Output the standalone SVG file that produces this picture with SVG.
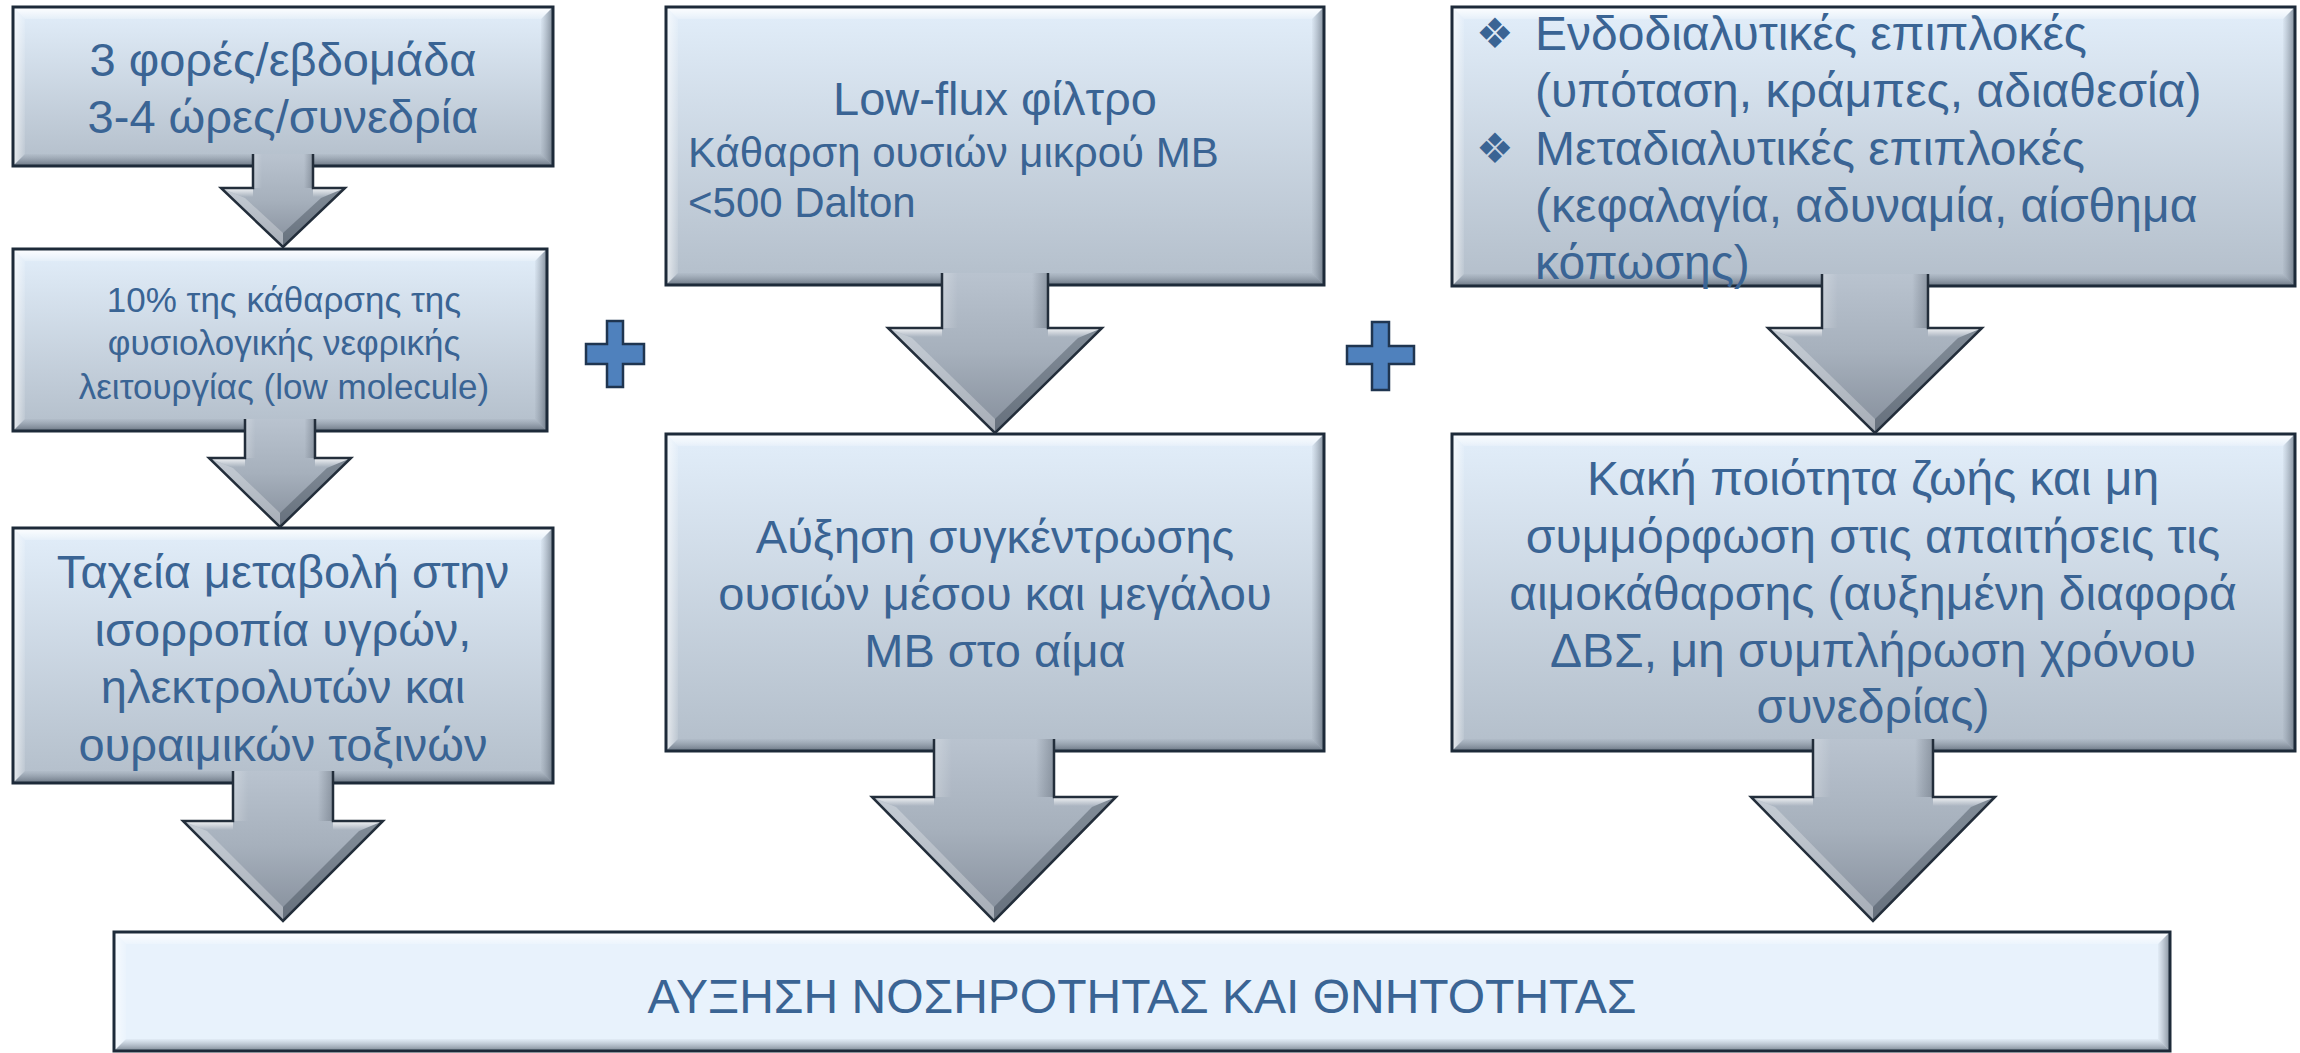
<svg xmlns="http://www.w3.org/2000/svg" width="2300" height="1053" viewBox="0 0 2300 1053">
  <defs>
    <linearGradient id="boxGrad" x1="0" y1="0" x2="0" y2="1">
      <stop offset="0" stop-color="#E2EEFA"/>
      <stop offset="1" stop-color="#B3BECA"/>
    </linearGradient>
    <linearGradient id="bevT" x1="0" y1="0" x2="0" y2="1">
      <stop offset="0" stop-color="#FFFFFF" stop-opacity="0.95"/>
      <stop offset="1" stop-color="#FFFFFF" stop-opacity="0.2"/>
    </linearGradient>
    <linearGradient id="bevL" x1="0" y1="0" x2="1" y2="0">
      <stop offset="0" stop-color="#FFFFFF" stop-opacity="0.7"/>
      <stop offset="1" stop-color="#FFFFFF" stop-opacity="0.1"/>
    </linearGradient>
    <linearGradient id="bevR" x1="0" y1="0" x2="1" y2="0">
      <stop offset="0" stop-color="#6B7684" stop-opacity="0.05"/>
      <stop offset="1" stop-color="#434E5C" stop-opacity="0.6"/>
    </linearGradient>
    <linearGradient id="bevB" x1="0" y1="0" x2="0" y2="1">
      <stop offset="0" stop-color="#6B7684" stop-opacity="0.05"/>
      <stop offset="1" stop-color="#434E5C" stop-opacity="0.65"/>
    </linearGradient>
    <linearGradient id="arrowGrad" x1="0" y1="0" x2="0" y2="1">
      <stop offset="0" stop-color="#B9C3CF"/>
      <stop offset="0.5" stop-color="#A6B0BC"/>
      <stop offset="1" stop-color="#858E9B"/>
    </linearGradient>
    <linearGradient id="shaftShade" x1="0" y1="0" x2="1" y2="0">
      <stop offset="0" stop-color="#FFFFFF" stop-opacity="0.25"/>
      <stop offset="0.15" stop-color="#FFFFFF" stop-opacity="0"/>
      <stop offset="0.85" stop-color="#3E4855" stop-opacity="0"/>
      <stop offset="1" stop-color="#3E4855" stop-opacity="0.35"/>
    </linearGradient>
    <linearGradient id="shoulderHi" x1="0" y1="0" x2="0" y2="1">
      <stop offset="0" stop-color="#FFFFFF" stop-opacity="0.85"/>
      <stop offset="1" stop-color="#FFFFFF" stop-opacity="0"/>
    </linearGradient>
  </defs>
  <style>
    .fill { fill: url(#boxGrad); }
    .flat { fill: #E8F2FC; }
    .bT { fill: url(#bevT); }
    .bL { fill: url(#bevL); }
    .bR { fill: url(#bevR); }
    .bB { fill: url(#bevB); }
    .edge { fill: none; stroke: #1D2A39; stroke-width: 3; }
    .lbl { font-family: "Liberation Sans", Arial, sans-serif; fill: #3A6494; }
    .c { text-anchor: middle; }
    .f47 { font-size: 47px; }
    .f48 { font-size: 48px; }
    .f42 { font-size: 42px; }
    .f35 { font-size: 35px; }
    .bullet { font-family: "DejaVu Sans", sans-serif; font-size: 42px; fill: #3A6494; }
    .arrow { fill: url(#arrowGrad); }
    .shaft { fill: url(#shaftShade); }
    .dl { fill: #FFFFFF; fill-opacity: 0.28; }
    .dr { fill: #2E3844; fill-opacity: 0.35; }
    .sh { fill: url(#shoulderHi); }
    .aline { fill: none; stroke: #232E3B; stroke-width: 2.5; stroke-linejoin: miter; }
    .plus { fill: #4F81BD; stroke: #1F3550; stroke-width: 2.5; }
  </style>

  <!-- left column -->
  <g id="sessions">
    <rect class="fill" x="13" y="7" width="540" height="159"/>
    <polygon class="bT" points="13,7 553,7 541,19 25,19"/>
    <polygon class="bL" points="13,7 25,19 25,154 13,166"/>
    <polygon class="bR" points="553,7 553,166 541,154 541,19"/>
    <polygon class="bB" points="13,166 553,166 541,154 25,154"/>
    <rect class="edge" x="13" y="7" width="540" height="159"/>
    <text class="lbl c f47" x="283" y="76">3 φορές/εβδομάδα</text>
    <text class="lbl c f47" x="283" y="133">3-4 ώρες/συνεδρία</text>
  </g>

  <g id="clearance">
    <rect class="fill" x="13" y="249" width="534" height="182"/>
    <polygon class="bT" points="13,249 547,249 535,261 25,261"/>
    <polygon class="bL" points="13,249 25,261 25,419 13,431"/>
    <polygon class="bR" points="547,249 547,431 535,419 535,261"/>
    <polygon class="bB" points="13,431 547,431 535,419 25,419"/>
    <rect class="edge" x="13" y="249" width="534" height="182"/>
    <text class="lbl c f35" x="284" y="312">10% της κάθαρσης της</text>
    <text class="lbl c f35" x="284" y="355">φυσιολογικής νεφρικής</text>
    <text class="lbl c f35" x="284" y="399">λειτουργίας (low molecule)</text>
  </g>

  <g id="rapid-change">
    <rect class="fill" x="13" y="528" width="540" height="255"/>
    <polygon class="bT" points="13,528 553,528 541,540 25,540"/>
    <polygon class="bL" points="13,528 25,540 25,771 13,783"/>
    <polygon class="bR" points="553,528 553,783 541,771 541,540"/>
    <polygon class="bB" points="13,783 553,783 541,771 25,771"/>
    <rect class="edge" x="13" y="528" width="540" height="255"/>
    <text class="lbl c f47" x="283" y="588">Ταχεία μεταβολή στην</text>
    <text class="lbl c f47" x="283" y="646">ισορροπία υγρών,</text>
    <text class="lbl c f47" x="283" y="703">ηλεκτρολυτών και</text>
    <text class="lbl c f47" x="283" y="761">ουραιμικών τοξινών</text>
  </g>

  <!-- middle column -->
  <g id="low-flux">
    <rect class="fill" x="666" y="7" width="658" height="278"/>
    <polygon class="bT" points="666,7 1324,7 1312,19 678,19"/>
    <polygon class="bL" points="666,7 678,19 678,273 666,285"/>
    <polygon class="bR" points="1324,7 1324,285 1312,273 1312,19"/>
    <polygon class="bB" points="666,285 1324,285 1312,273 678,273"/>
    <rect class="edge" x="666" y="7" width="658" height="278"/>
    <text class="lbl c f47" x="995" y="115">Low-flux φίλτρο</text>
    <text class="lbl f42" x="688" y="167">Κάθαρση ουσιών μικρού ΜΒ</text>
    <text class="lbl f42" x="688" y="217">&lt;500 Dalton</text>
  </g>

  <g id="mid-large">
    <rect class="fill" x="666" y="434" width="658" height="317"/>
    <polygon class="bT" points="666,434 1324,434 1312,446 678,446"/>
    <polygon class="bL" points="666,434 678,446 678,739 666,751"/>
    <polygon class="bR" points="1324,434 1324,751 1312,739 1312,446"/>
    <polygon class="bB" points="666,751 1324,751 1312,739 678,739"/>
    <rect class="edge" x="666" y="434" width="658" height="317"/>
    <text class="lbl c f47" x="995" y="553">Αύξηση συγκέντρωσης</text>
    <text class="lbl c f47" x="995" y="610">ουσιών μέσου και μεγάλου</text>
    <text class="lbl c f47" x="995" y="667">ΜΒ στο αίμα</text>
  </g>

  <!-- right column -->
  <g id="complications">
    <rect class="fill" x="1452" y="7" width="843" height="279"/>
    <polygon class="bT" points="1452,7 2295,7 2283,19 1464,19"/>
    <polygon class="bL" points="1452,7 1464,19 1464,274 1452,286"/>
    <polygon class="bR" points="2295,7 2295,286 2283,274 2283,19"/>
    <polygon class="bB" points="1452,286 2295,286 2283,274 1464,274"/>
    <rect class="edge" x="1452" y="7" width="843" height="279"/>
    <text class="bullet" x="1476" y="48">❖</text>
    <text class="lbl f48" x="1535" y="50">Ενδοδιαλυτικές επιπλοκές</text>
    <text class="lbl f48" x="1535" y="107">(υπόταση, κράμπες, αδιαθεσία)</text>
    <text class="bullet" x="1476" y="163">❖</text>
    <text class="lbl f48" x="1535" y="165">Μεταδιαλυτικές επιπλοκές</text>
    <text class="lbl f48" x="1535" y="222">(κεφαλαγία, αδυναμία, αίσθημα</text>
    <text class="lbl f48" x="1535" y="279">κόπωσης)</text>
  </g>

  <g id="quality-of-life">
    <rect class="fill" x="1452" y="434" width="843" height="317"/>
    <polygon class="bT" points="1452,434 2295,434 2283,446 1464,446"/>
    <polygon class="bL" points="1452,434 1464,446 1464,739 1452,751"/>
    <polygon class="bR" points="2295,434 2295,751 2283,739 2283,446"/>
    <polygon class="bB" points="1452,751 2295,751 2283,739 1464,739"/>
    <rect class="edge" x="1452" y="434" width="843" height="317"/>
    <text class="lbl c f48" x="1873" y="495">Κακή ποιότητα ζωής και μη</text>
    <text class="lbl c f48" x="1873" y="553">συμμόρφωση στις απαιτήσεις τις</text>
    <text class="lbl c f48" x="1873" y="610">αιμοκάθαρσης (αυξημένη διαφορά</text>
    <text class="lbl c f48" x="1873" y="667">ΔΒΣ, μη συμπλήρωση χρόνου</text>
    <text class="lbl c f48" x="1873" y="723">συνεδρίας)</text>
  </g>

  <!-- outcome -->
  <g id="outcome">
    <rect class="flat" x="114" y="932" width="2056" height="119"/>
    <polygon class="bT" points="114,932 2170,932 2158,944 126,944"/>
    <polygon class="bL" points="114,932 126,944 126,1039 114,1051"/>
    <polygon class="bR" points="2170,932 2170,1051 2158,1039 2158,944"/>
    <polygon class="bB" points="114,1051 2170,1051 2158,1039 126,1039"/>
    <rect class="edge" x="114" y="932" width="2056" height="119"/>
    <text class="lbl c f48" x="1142" y="1013">ΑΥΞΗΣΗ ΝΟΣΗΡΟΤΗΤΑΣ ΚΑΙ ΘΝΗΤΟΤΗΤΑΣ</text>
  </g>

  <!-- block arrows -->
  <g id="connectors">
    <g id="arrow-sessions-clearance">
      <polygon class="arrow" points="253,154 253,188 221,188 283,247 345,188 313,188 313,154"/>
      <rect class="shaft" x="253" y="154" width="60" height="34"/>
      <polygon class="dl" points="221,188 283,247 283,233 245,198"/>
      <polygon class="dr" points="345,188 283,247 283,233 321,198"/>
      <polygon class="sh" points="221,188 253,188 253,197 243,197"/>
      <polygon class="sh" points="313,188 345,188 323,197 313,197"/>
      <polyline class="aline" points="253,154 253,188 221,188 283,247 345,188 313,188 313,154"/>
    </g>
    <g id="arrow-clearance-rapid">
      <polygon class="arrow" points="245,419 245,458 209,458 280,527 351,458 315,458 315,419"/>
      <rect class="shaft" x="245" y="419" width="70" height="39"/>
      <polygon class="dl" points="209,458 280,527 280,513 233,468"/>
      <polygon class="dr" points="351,458 280,527 280,513 327,468"/>
      <polygon class="sh" points="209,458 245,458 245,467 231,467"/>
      <polygon class="sh" points="315,458 351,458 329,467 315,467"/>
      <polyline class="aline" points="245,419 245,458 209,458 280,527 351,458 315,458 315,419"/>
    </g>
    <g id="arrow-rapid-outcome">
      <polygon class="arrow" points="233,771 233,821 183,821 283,921 383,821 333,821 333,771"/>
      <rect class="shaft" x="233" y="771" width="100" height="50"/>
      <polygon class="dl" points="183,821 283,921 283,907 207,831"/>
      <polygon class="dr" points="383,821 283,921 283,907 359,831"/>
      <polygon class="sh" points="183,821 233,821 233,830 205,830"/>
      <polygon class="sh" points="333,821 383,821 361,830 333,830"/>
      <polyline class="aline" points="233,771 233,821 183,821 283,921 383,821 333,821 333,771"/>
    </g>
    <g id="arrow-lowflux-midlarge">
      <polygon class="arrow" points="942,273 942,328 888,328 995,433 1102,328 1048,328 1048,273"/>
      <rect class="shaft" x="942" y="273" width="106" height="55"/>
      <polygon class="dl" points="888,328 995,433 995,419 912,338"/>
      <polygon class="dr" points="1102,328 995,433 995,419 1078,338"/>
      <polygon class="sh" points="888,328 942,328 942,337 910,337"/>
      <polygon class="sh" points="1048,328 1102,328 1080,337 1048,337"/>
      <polyline class="aline" points="942,273 942,328 888,328 995,433 1102,328 1048,328 1048,273"/>
    </g>
    <g id="arrow-midlarge-outcome">
      <polygon class="arrow" points="934,739 934,797 872,797 994,921 1116,797 1054,797 1054,739"/>
      <rect class="shaft" x="934" y="739" width="120" height="58"/>
      <polygon class="dl" points="872,797 994,921 994,907 896,807"/>
      <polygon class="dr" points="1116,797 994,921 994,907 1092,807"/>
      <polygon class="sh" points="872,797 934,797 934,806 894,806"/>
      <polygon class="sh" points="1054,797 1116,797 1094,806 1054,806"/>
      <polyline class="aline" points="934,739 934,797 872,797 994,921 1116,797 1054,797 1054,739"/>
    </g>
    <g id="arrow-complications-quality">
      <polygon class="arrow" points="1822,274 1822,328 1768,328 1875,433 1982,328 1928,328 1928,274"/>
      <rect class="shaft" x="1822" y="274" width="106" height="54"/>
      <polygon class="dl" points="1768,328 1875,433 1875,419 1792,338"/>
      <polygon class="dr" points="1982,328 1875,433 1875,419 1958,338"/>
      <polygon class="sh" points="1768,328 1822,328 1822,337 1790,337"/>
      <polygon class="sh" points="1928,328 1982,328 1960,337 1928,337"/>
      <polyline class="aline" points="1822,274 1822,328 1768,328 1875,433 1982,328 1928,328 1928,274"/>
    </g>
    <g id="arrow-quality-outcome">
      <polygon class="arrow" points="1813,739 1813,797 1751,797 1873,921 1995,797 1933,797 1933,739"/>
      <rect class="shaft" x="1813" y="739" width="120" height="58"/>
      <polygon class="dl" points="1751,797 1873,921 1873,907 1775,807"/>
      <polygon class="dr" points="1995,797 1873,921 1873,907 1971,807"/>
      <polygon class="sh" points="1751,797 1813,797 1813,806 1773,806"/>
      <polygon class="sh" points="1933,797 1995,797 1973,806 1933,806"/>
      <polyline class="aline" points="1813,739 1813,797 1751,797 1873,921 1995,797 1933,797 1933,739"/>
    </g>
  </g>

  <!-- plus operators between columns -->
  <g id="plus-left">
    <polygon class="plus" points="607,321 623,321 623,344 644,344 644,364 623,364 623,387 607,387 607,364 586,364 586,344 607,344"/>
  </g>
  <g id="plus-right">
    <polygon class="plus" points="1372,322 1389,322 1389,346 1414,346 1414,364 1389,364 1389,390 1372,390 1372,364 1347,364 1347,346 1372,346"/>
  </g>
</svg>
